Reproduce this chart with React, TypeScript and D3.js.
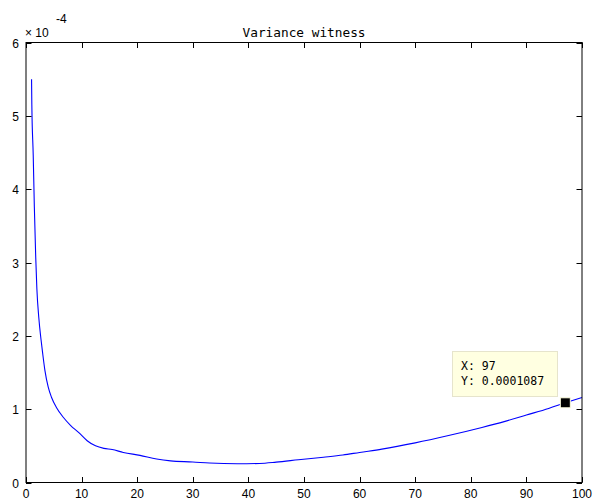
import React from "react";
import * as d3 from "d3";

const xs = [1, 1.05, 1.3, 1.5, 1.75, 1.95, 2.3, 2.7, 3.0, 3.4, 4.0, 4.6, 5.5, 6.7, 8.0, 9.5, 11, 12.5, 14, 15.5, 17.5, 20.5, 23.5, 26, 30, 33, 38, 42, 45, 49, 53.5, 57, 60, 64, 70, 76, 82, 86, 90, 94, 97, 100];
const vs = [5.5, 5.15, 4.46, 3.76, 3.07, 2.65, 2.25, 1.95, 1.76, 1.53, 1.3, 1.16, 1.02, 0.89, 0.78, 0.68, 0.57, 0.5, 0.465, 0.45, 0.41, 0.37, 0.32, 0.295, 0.28, 0.265, 0.255, 0.26, 0.278, 0.31, 0.345, 0.375, 0.41, 0.455, 0.54, 0.64, 0.75, 0.83, 0.92, 1.01, 1.087, 1.16];
const xTicks = [0, 10, 20, 30, 40, 50, 60, 70, 80, 90, 100];
const yTicks = [0, 1, 2, 3, 4, 5, 6];
const title = "Variance witness";
const tipX = 97;
const tipY = 1.087;

export default function App() {
  const L = 26, R = 582, T = 42.5, B = 482.5;
  const x = d3.scaleLinear().domain([0, 100]).range([L, R]);
  const y = d3.scaleLinear().domain([0, 6]).range([B, T]);
  const pts = xs.map((d, i) => [d, vs[i]] as [number, number]);
  const line = d3.line<[number, number]>().x(d => x(d[0])).y(d => y(d[1])).curve(d3.curveMonotoneX);
  const tl = 5.5;
  const font = "'Liberation Sans', Arial, sans-serif";
  const mono = "'DejaVu Sans Mono', monospace";
  const mx = x(tipX), my = y(tipY);
  return (
    <svg width={593} height={499} style={{ position: "absolute", left: 0, top: 0, background: "#fff" }}>
      <rect x={0} y={0} width={593} height={499} fill="#fff" />
      <path d={line(pts) || ""} fill="none" stroke="#0000ff" strokeWidth={1.1} />
      <rect x={L} y={T} width={R - L} height={B - T} fill="none" stroke="#000" strokeWidth={1} />
      {xTicks.map(t => (
        <g key={"x" + t}>
          <line x1={Math.round(x(t)) + 0.5} x2={Math.round(x(t)) + 0.5} y1={B} y2={B - tl} stroke="#000" />
          <line x1={Math.round(x(t)) + 0.5} x2={Math.round(x(t)) + 0.5} y1={T} y2={T + tl} stroke="#000" />
          <text x={x(t)} y={498} textAnchor="middle" fontFamily={font} fontSize={12} fill="#000">{t}</text>
        </g>
      ))}
      {yTicks.map(t => (
        <g key={"y" + t}>
          <line x1={L} x2={L + tl} y1={Math.round(y(t)) + 0.5} y2={Math.round(y(t)) + 0.5} stroke="#000" />
          <line x1={R} x2={R - tl} y1={Math.round(y(t)) + 0.5} y2={Math.round(y(t)) + 0.5} stroke="#000" />
          <text x={19} y={y(t) + 5} textAnchor="end" fontFamily={font} fontSize={12} fill="#000">{t}</text>
        </g>
      ))}
      <text x={25} y={37} fontFamily={font} fontSize={12} fill="#000">× 10</text>
      <text x={56} y={23} fontFamily={font} fontSize={12} fill="#000">-4</text>
      <text x={(L + R) / 2} y={37} textAnchor="middle" fontFamily={mono} fontSize={12} fill="#000" textLength={123} lengthAdjust="spacingAndGlyphs">{title}</text>
      <rect x={452.5} y={351.5} width={105} height={45} fill="#ffffe1" stroke="#e6e4cc" />
      <text x={461} y={370} fontFamily={mono} fontSize={11.5} fill="#000">X: {tipX}</text>
      <text x={461} y={385} fontFamily={mono} fontSize={11.5} fill="#000">Y: 0.0001087</text>
      <rect x={mx - 5} y={my - 5} width={10} height={10} fill="#000" stroke="#ffffe1" strokeWidth={1} />
    </svg>
  );
}
